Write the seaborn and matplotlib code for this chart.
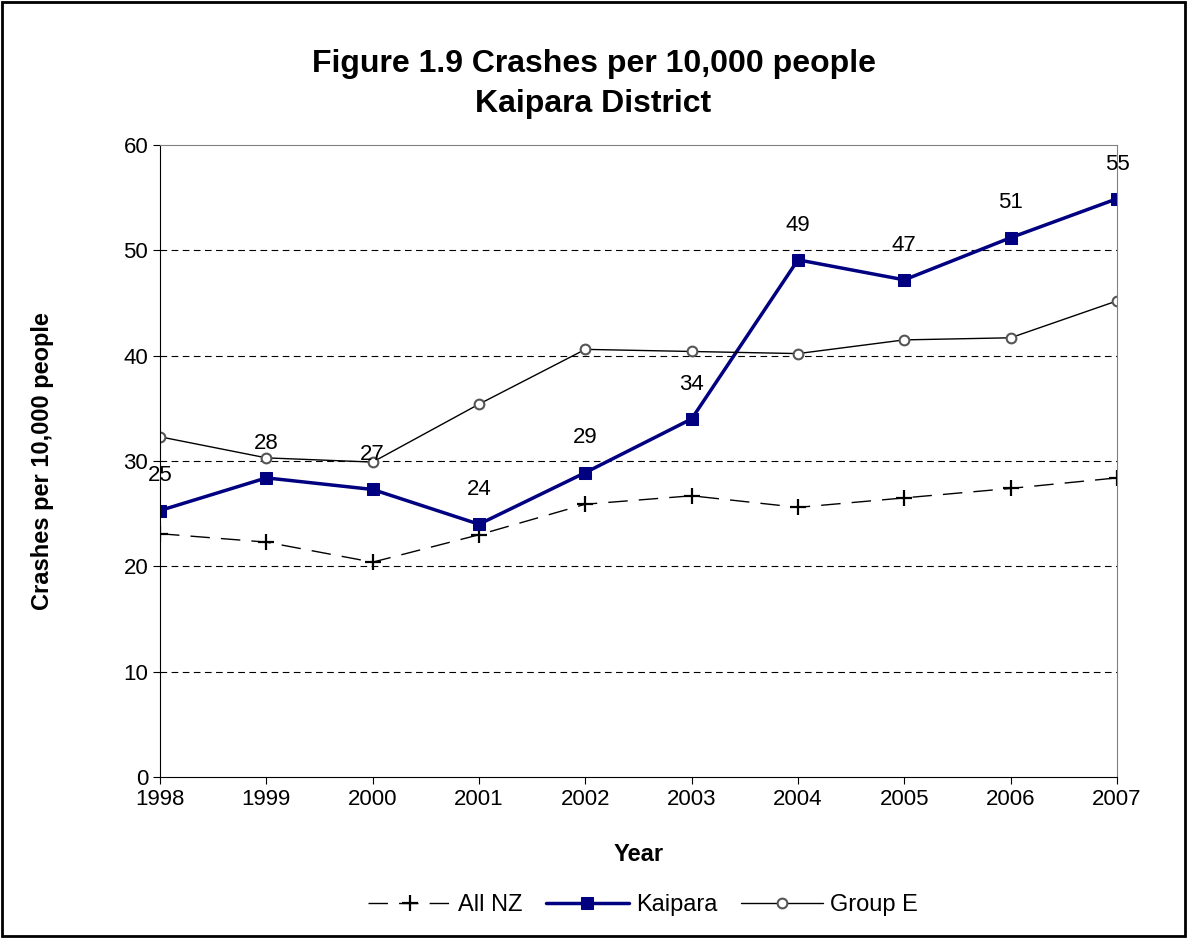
import pandas as pd
import seaborn as sns
import matplotlib.pyplot as plt

# Values
years = [1998, 1999, 2000, 2001, 2002, 2003, 2004, 2005, 2006, 2007]
all_nz = [23.1, 22.3, 20.4, 23.0, 25.9, 26.7, 25.6, 26.5, 27.4, 28.4]
kaipara = [25.3, 28.4, 27.3, 24.0, 28.9, 34.0, 49.1, 47.2, 51.2, 54.9]
group_e = [32.3, 30.3, 29.9, 35.4, 40.6, 40.4, 40.2, 41.5, 41.7, 45.2]

df = pd.DataFrame({'Year': years, 'All NZ': all_nz, 'Kaipara': kaipara, 'Group E': group_e})

sns.set_style("white")
plt.rcParams['font.family'] = ['Liberation Sans', 'DejaVu Sans']
plt.rcParams['text.color'] = 'black'
plt.rcParams['axes.labelcolor'] = 'black'
plt.rcParams['xtick.color'] = 'black'
plt.rcParams['ytick.color'] = 'black'

fig = plt.figure(figsize=(11.87, 9.38), dpi=100)
ax = fig.add_axes([0.1348, 0.1716, 0.8062, 0.6738])

sns.lineplot(data=df, x='Year', y='All NZ', ax=ax, color='black', lw=1,
             dashes=False, linestyle=(0, (14, 8)), marker='+', markersize=11,
             markeredgewidth=1.6, markeredgecolor='black', label='All NZ')
sns.lineplot(data=df, x='Year', y='Kaipara', ax=ax, color='#000080', lw=2.5,
             marker='s', markersize=9, markeredgecolor='#000080', label='Kaipara')
sns.lineplot(data=df, x='Year', y='Group E', ax=ax, color='black', lw=1,
             marker='o', markersize=7, markerfacecolor='white',
             markeredgecolor='#555555', markeredgewidth=1.5, label='Group E')

# data labels on Kaipara
for x, y in zip(years, kaipara):
    ax.annotate(f"{y:.0f}", (x, y), xytext=(0, 25), textcoords='offset points',
                ha='center', va='center', fontsize=16)

ax.set_xlim(1998, 2007)
ax.set_ylim(0, 60)
ax.set_xticks(years)
ax.set_yticks(range(0, 61, 10))
ax.tick_params(axis='both', labelsize=16, length=5, direction='out', bottom=True, left=True)
for v in range(10, 60, 10):
    ax.axhline(v, color='black', lw=0.8, linestyle=(0, (6, 4)), zorder=0)

ax.spines['left'].set_color('black')
ax.spines['bottom'].set_color('black')
ax.spines['top'].set_color('#808080')
ax.spines['right'].set_color('#808080')

ax.set_xlabel("Year", fontsize=17, fontweight='bold', labelpad=24)
ax.set_ylabel("Crashes per 10,000 people", fontsize=17, fontweight='bold', labelpad=50)
fig.text(0.5, 0.9105, "Figure 1.9 Crashes per 10,000 people\nKaipara District", fontsize=23,
         fontweight='bold', ha='center', va='center', linespacing=1.45)

ax.legend(loc='upper center', bbox_to_anchor=(0.505, -0.152), ncol=3, frameon=False,
          fontsize=17, handlelength=3.5, columnspacing=1.0, handletextpad=0.3)

# outer frame of the figure
fig.patches.append(plt.Rectangle((0.002, 0.002), 0.996, 0.996, transform=fig.transFigure,
                                 fill=False, edgecolor='black', lw=2))

fig.savefig('out.png', dpi=100)
